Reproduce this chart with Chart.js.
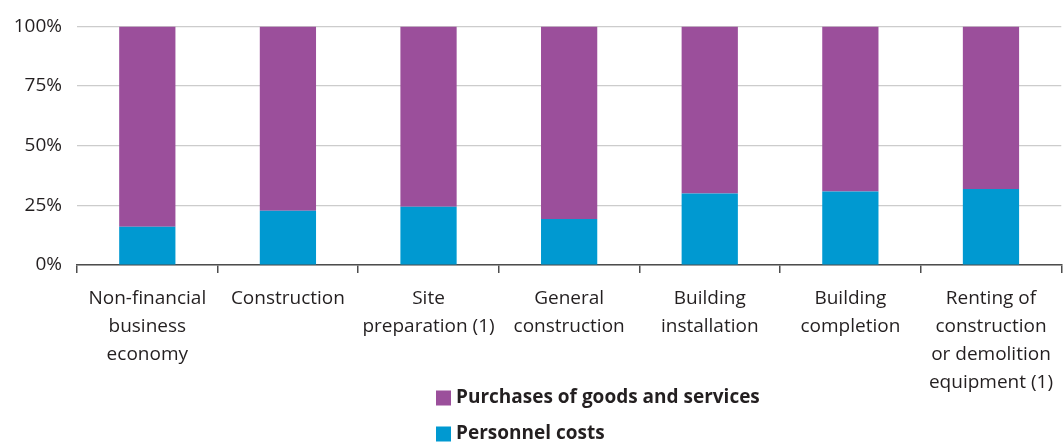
<!DOCTYPE html>
<html>
<head>
<meta charset="utf-8">
<script src="https://cdn.jsdelivr.net/npm/chart.js@4.4.1/dist/chart.umd.min.js"></script>
<style>
  html, body { margin: 0; padding: 0; background: #ffffff; }
  #wrap { position: relative; width: 1064px; height: 442px; }
</style>
</head>
<body>
<div id="wrap"><canvas id="chart" width="1064" height="442"></canvas></div>
<script>
// Categories (multi-line labels)
const categories = [
  ['Non-financial', 'business', 'economy'],
  ['Construction'],
  ['Site', 'preparation (1)'],
  ['General', 'construction'],
  ['Building', 'installation'],
  ['Building', 'completion'],
  ['Renting of', 'construction', 'or demolition', 'equipment (1)']
];

// Shares of total expenditure (%)
const personnelCosts = [16.0, 22.7, 24.4, 19.3, 30.0, 30.8, 31.9];
const purchases = [84.0, 77.3, 75.6, 80.7, 70.0, 69.2, 68.1];

const yTicks = [0, 25, 50, 75, 100];

const PURPLE = '#9b4f9b';
const BLUE = '#0099d1';
const FONT = '"Open Sans", "Noto Sans", sans-serif';

// Vertically stacked legend below the plot
const stackedLegend = {
  id: 'stackedLegend',
  afterDraw(chart) {
    const ctx = chart.ctx;
    const items = [
      { label: chart.data.datasets[1].label, color: chart.data.datasets[1].backgroundColor },
      { label: chart.data.datasets[0].label, color: chart.data.datasets[0].backgroundColor }
    ];
    const x = 436, y0 = 398, step = 36, box = 15;
    ctx.save();
    ctx.font = 'bold 19px ' + FONT;
    ctx.textBaseline = 'middle';
    ctx.textAlign = 'left';
    items.forEach((it, i) => {
      const cy = y0 + i * step;
      ctx.fillStyle = it.color;
      ctx.fillRect(x, cy - box / 2, box, box);
      ctx.fillStyle = '#231f20';
      ctx.fillText(it.label, x + box + 5, cy);
    });
    ctx.restore();
  }
};

new Chart(document.getElementById('chart'), {
  type: 'bar',
  data: {
    labels: categories,
    datasets: [
      { label: 'Personnel costs', data: personnelCosts, backgroundColor: BLUE },
      { label: 'Purchases of goods and services', data: purchases, backgroundColor: PURPLE }
    ]
  },
  options: {
    responsive: false,
    animation: false,
    layout: { padding: { top: 19, right: 0, bottom: 0, left: 0 } },
    datasets: { bar: { categoryPercentage: 0.4, barPercentage: 1.0 } },
    plugins: {
      legend: { display: false },
      tooltip: { enabled: false },
      title: { display: false }
    },
    scales: {
      x: {
        stacked: true,
        offset: true,
        afterFit(scale) { scale.height = 177; },
        border: { display: true, color: '#4d4d4d', width: 1.5 },
        grid: {
          offset: true,
          drawOnChartArea: false,
          drawTicks: true,
          tickLength: 8,
          color: '#4d4d4d',
          lineWidth: 1.5
        },
        ticks: {
          color: '#231f20',
          font: { family: FONT, size: 19, lineHeight: 1.49 },
          padding: 11,
          maxRotation: 0,
          autoSkip: false
        }
      },
      y: {
        stacked: true,
        min: 0,
        max: 100,
        afterFit(scale) { scale.width = 77; },
        afterBuildTicks(scale) { scale.ticks = yTicks.map(v => ({ value: v })); },
        border: { display: false },
        grid: { color: '#cccccc', lineWidth: 1.2, drawTicks: false },
        ticks: {
          color: '#231f20',
          font: { family: FONT, size: 19 },
          padding: 15,
          callback: v => v + '%'
        }
      }
    }
  },
  plugins: [stackedLegend]
});
</script>
</body>
</html>
